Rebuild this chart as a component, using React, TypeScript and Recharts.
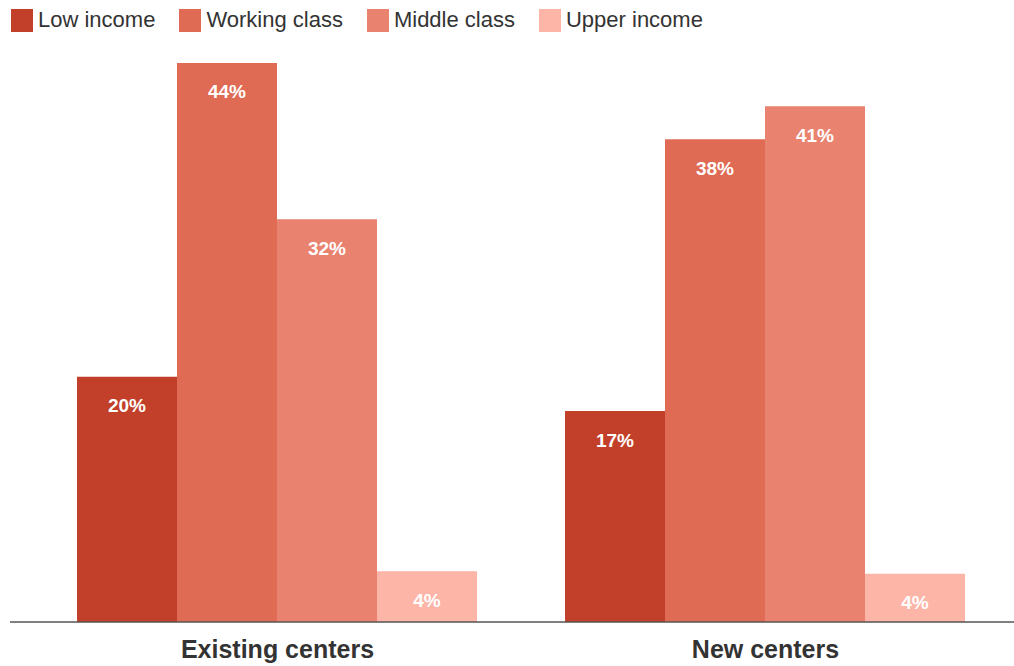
import { Bar, BarChart, LabelList, XAxis, YAxis } from "recharts";

const categories = ["Existing centers", "New centers"];
const lowIncome = [19.3, 16.6];
const workingClass = [44, 38];
const middleClass = [31.7, 40.6];
const upperIncome = [4, 3.8];
const labelsLow = ["20%", "17%"];
const labelsWorking = ["44%", "38%"];
const labelsMiddle = ["32%", "41%"];
const labelsUpper = ["4%", "4%"];

const series = [
  { key: "low", name: "Low income", color: "#C2402A", values: lowIncome, labels: labelsLow },
  { key: "working", name: "Working class", color: "#E06B55", values: workingClass, labels: labelsWorking },
  { key: "middle", name: "Middle class", color: "#E9826F", values: middleClass, labels: labelsMiddle },
  { key: "upper", name: "Upper income", color: "#FDB5A7", values: upperIncome, labels: labelsUpper },
];

const data = categories.map((name, i) => {
  const row: Record<string, string | number> = { name };
  series.forEach((s) => {
    row[s.key] = s.values[i];
    row[s.key + "Label"] = s.labels[i];
  });
  return row;
});

const font = '"Liberation Sans", Arial, sans-serif';

function Legend() {
  return (
    <div
      style={{
        position: "absolute",
        top: 8,
        left: 11,
        display: "flex",
        gap: 24,
        fontFamily: font,
        fontSize: 22,
        color: "#333",
        lineHeight: "24px",
      }}
    >
      {series.map((s) => (
        <div key={s.key} style={{ display: "flex", alignItems: "center", gap: 5 }}>
          <span style={{ width: 22, height: 23, background: s.color, display: "inline-block" }} />
          <span>{s.name}</span>
        </div>
      ))}
    </div>
  );
}

export default function App() {
  return (
    <div style={{ position: "absolute", left: 0, top: 0, width: 1014, height: 666, background: "#fff" }}>
      <BarChart
        width={1014}
        height={666}
        data={data}
        margin={{ top: 63, right: 0, left: 10, bottom: 0 }}
        barCategoryGap={43.5}
        barGap={0}
      >
        <XAxis
          dataKey="name"
          height={44}
          padding={{ left: 23.5, right: 4.5 }}
          tickLine={false}
          axisLine={{ stroke: "#555", strokeWidth: 1.5 }}
          tick={{ fill: "#333", fontSize: 25, fontWeight: 700, fontFamily: font }}
          tickMargin={12}
          interval={0}
        />
        <YAxis hide domain={[0, 44]} />
        {series.map((s) => (
          <Bar key={s.key} dataKey={s.key} name={s.name} fill={s.color} isAnimationActive={false}>
            <LabelList
              dataKey={s.key + "Label"}
              position="insideTop"
              offset={22}
              fill="#fff"
              fontSize={19}
              fontWeight={700}
              fontFamily={font}
            />
          </Bar>
        ))}
      </BarChart>
      <Legend />
    </div>
  );
}
